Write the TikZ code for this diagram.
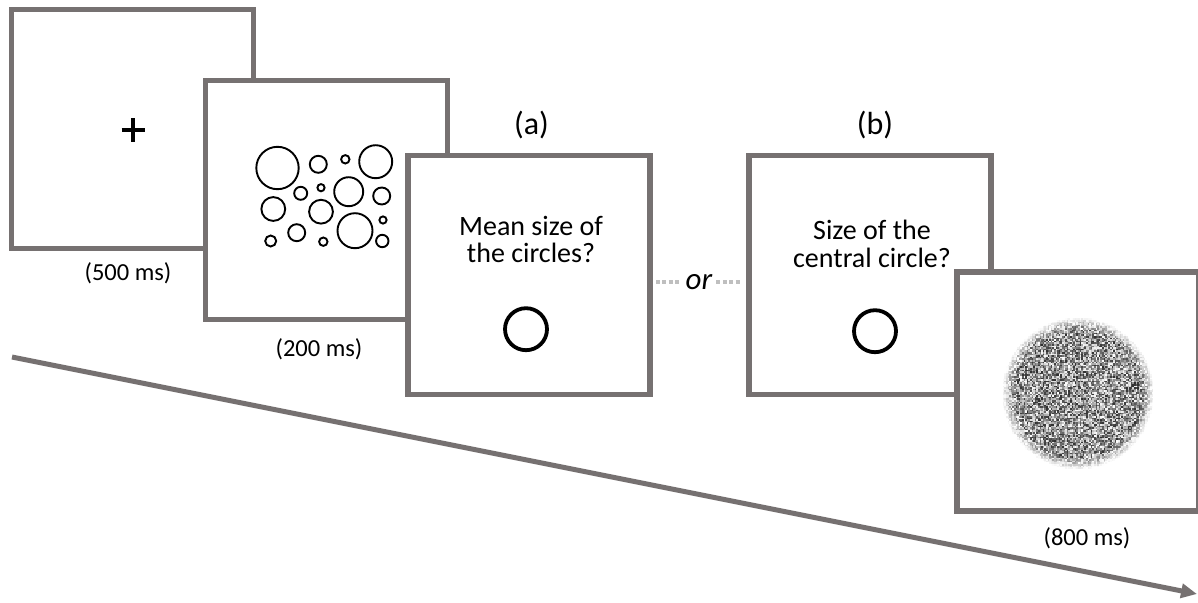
\documentclass[tikz,border=0pt]{standalone}
\usepackage{fontspec}
\setmainfont{Carlito}
\usetikzlibrary{arrows.meta}
\definecolor{framegray}{RGB}{118,113,113}
\definecolor{dotgray}{RGB}{191,191,191}
\begin{document}
\begin{tikzpicture}[x=1pt,y=-1pt,
  frame/.style={draw=framegray, line width=5.5pt, fill=white, minimum width=242pt, minimum height=239pt, inner sep=0pt, outer sep=0pt},
  dur/.style={font=\fontsize{24.5}{28}\selectfont, inner sep=0pt},
  question/.style={font=\fontsize{28}{27.7}\selectfont, align=center, inner sep=0pt},
  panel/.style={font=\fontsize{32}{34}\selectfont, inner sep=0pt},
  orlbl/.style={font=\fontsize{31}{32}\selectfont\itshape, inner sep=0pt},
  dot/.style={draw=black, line width=1.9pt},
  probe/.style={draw=black, line width=3.8pt},
  fixline/.style={draw=black, line width=3.8pt},
  ordots/.style={draw=dotgray, line width=4pt, dash pattern=on 4pt off 2.35pt},
  timeline/.style={draw=framegray, line width=5pt, -{Triangle[length=16pt,width=14pt]}}
]
\useasboundingbox (0,0) rectangle (1198,602);

% timeline
\coordinate (tstart) at (12,357);
\coordinate (tend) at (1197,594);
\draw[timeline] (tstart) -- (tend);

% frame 1: fixation
\node[frame] (fix) at (132.5,129) {};
\draw[fixline] (121.5,130) -- (145,130);
\draw[fixline] (133.3,118) -- (133.3,141.7);
\node[dur] (d500) at (128,273) {(500 ms)};

% frame 2: circles
\node[frame] (arr) at (326.5,200) {};
\foreach \cx/\cy/\r in {277.5/168/21.2, 318.3/164.3/8.5, 345.3/159.3/4.2, 375.7/161.7/16.5,
  300.7/193.3/6.5, 321/187.7/3.6, 348.7/191.7/14.5, 381.7/196/8.5,
  273.3/209/11.9, 321/211.7/11.9, 296.7/232.7/8.5, 355/230.7/17.5,
  383/220/3.6, 270.7/241/5.5, 323.3/241.7/4.2, 382.3/241/6.2}
  \draw[dot] (\cx,\cy) circle[radius=\r pt];
\node[dur] (d200) at (319,349) {(200 ms)};

% frame 3: question (a)
\node[frame] (qa) at (529,275) {};
\node[panel] (la) at (531.5,124.7) {(a)};
\node[question] (ta) at (531,239.4) {Mean size of\\the circles?};
\draw[probe] (526,329.2) circle[radius=21pt];

% frame 4: question (b)
\node[frame] (qb) at (870,275) {};
\node[panel] (lb) at (875,125.5) {(b)};
\node[question] (tb) at (872,243.9) {Size of the\\central circle?};
\draw[probe] (875,331.2) circle[radius=21pt];

% or
\node[orlbl] (or) at (699,282) {or};
\draw[ordots] ([xshift=6pt]qa.east |- or.center) -- ([xshift=-6pt]or.west);
\draw[ordots] ([xshift=4pt]or.east) -- ([xshift=-9pt]qb.west |- or.center);

% frame 5: mask
\node[frame] (mask) at (1078,391.5) {};
\pgfmathsetseed{11}
\foreach \i in {-48,...,47}{\foreach \j in {-48,...,47}{%
  \pgfmathsetmacro\rr{veclen(1.6*\i+0.8,1.6*\j+0.8)}%
  \ifdim\rr pt<76pt
    \pgfmathsetmacro\gv{82*min(1,(76-\rr)/12)*rnd}%
    \fill[black!\gv] ({1078+1.6*\i},{393.5+1.6*\j}) rectangle ++(1.65,1.65);
  \fi
}}
\node[dur] (d800) at (1087,538) {(800 ms)};
\end{tikzpicture}
\end{document}
